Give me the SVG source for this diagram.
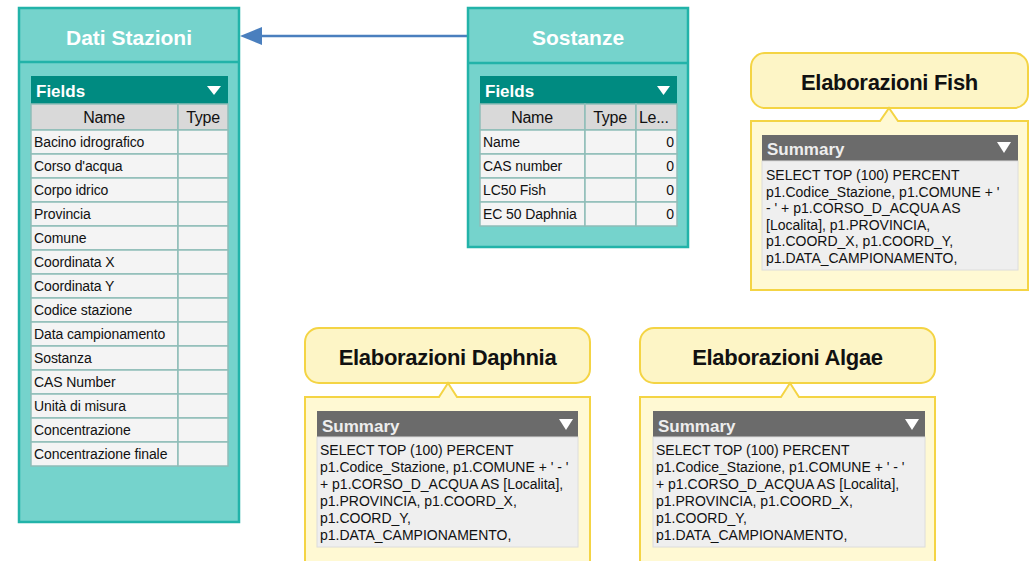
<svg xmlns="http://www.w3.org/2000/svg" width="1032" height="561" viewBox="0 0 1032 561">
<style>
.tbl{fill:#75d3cc;stroke:#22b3a9;stroke-width:2.5}
.ttl{font-family:"Liberation Sans",Arial,sans-serif;font-weight:bold;font-size:21px;fill:#ffffff;text-anchor:middle}
.fh{fill:#008b81}
.fht{font-family:"Liberation Sans",Arial,sans-serif;font-weight:bold;font-size:17px;fill:#ffffff}
.ch{fill:#d9d9d9;stroke:#8fbdb8;stroke-width:1.5}
.cht{font-family:"Liberation Sans",Arial,sans-serif;font-size:16px;fill:#111;text-anchor:middle;letter-spacing:-0.3px}
.cell{fill:#f4f4f4;stroke:#8fbdb8;stroke-width:1.5}
.ct{font-family:"Liberation Sans",Arial,sans-serif;font-size:14px;fill:#111;letter-spacing:-0.1px}
.num{text-anchor:end}
.wtri{fill:#ffffff}
.ctitle{fill:#fdf5c6;stroke:#f4d444;stroke-width:2}
.cbody{fill:#fff9d3;stroke:#f4d444;stroke-width:2}
.ctt{font-family:"Liberation Sans",Arial,sans-serif;font-weight:bold;font-size:22px;fill:#111;text-anchor:middle;letter-spacing:-0.3px}
.sh{fill:#6b6b6b}
.sht{font-family:"Liberation Sans",Arial,sans-serif;font-weight:bold;font-size:17px;fill:#eeeeee}
.sb{fill:#efefef;stroke:#dcdcdc;stroke-width:1}
.st{font-family:"Liberation Sans",Arial,sans-serif;font-size:14px;fill:#111}
.conn{stroke:#4a7fbe;stroke-width:2.5;fill:none}
.ah{fill:#4a7fbe}
</style>

<g id="connectors">
  <line class="conn" x1="468" y1="36" x2="258" y2="36"/>
  <polygon class="ah" points="240,36 262,27 262,45"/>
</g>

<g id="dati-stazioni">
  <rect class="tbl" x="19" y="8" width="220" height="514"/>
  <line x1="19" y1="62" x2="239" y2="62" stroke="#22b3a9" stroke-width="2.5"/>
  <text class="ttl" x="129" y="45">Dati Stazioni</text>
  <rect class="fh" x="31" y="76" width="197" height="28"/>
  <text class="fht" x="36" y="97">Fields</text>
  <polygon class="wtri" points="207,86 221,86 214,95"/>
  <rect class="ch" x="31" y="104" width="147" height="26"/>
  <rect class="ch" x="178" y="104" width="50" height="26"/>
  <text class="cht" x="104" y="123">Name</text>
  <text class="cht" x="203" y="123">Type</text>
  <g>
    <rect class="cell" x="31" y="130" width="147" height="24"/><rect class="cell" x="178" y="130" width="50" height="24"/>
    <rect class="cell" x="31" y="154" width="147" height="24"/><rect class="cell" x="178" y="154" width="50" height="24"/>
    <rect class="cell" x="31" y="178" width="147" height="24"/><rect class="cell" x="178" y="178" width="50" height="24"/>
    <rect class="cell" x="31" y="202" width="147" height="24"/><rect class="cell" x="178" y="202" width="50" height="24"/>
    <rect class="cell" x="31" y="226" width="147" height="24"/><rect class="cell" x="178" y="226" width="50" height="24"/>
    <rect class="cell" x="31" y="250" width="147" height="24"/><rect class="cell" x="178" y="250" width="50" height="24"/>
    <rect class="cell" x="31" y="274" width="147" height="24"/><rect class="cell" x="178" y="274" width="50" height="24"/>
    <rect class="cell" x="31" y="298" width="147" height="24"/><rect class="cell" x="178" y="298" width="50" height="24"/>
    <rect class="cell" x="31" y="322" width="147" height="24"/><rect class="cell" x="178" y="322" width="50" height="24"/>
    <rect class="cell" x="31" y="346" width="147" height="24"/><rect class="cell" x="178" y="346" width="50" height="24"/>
    <rect class="cell" x="31" y="370" width="147" height="24"/><rect class="cell" x="178" y="370" width="50" height="24"/>
    <rect class="cell" x="31" y="394" width="147" height="24"/><rect class="cell" x="178" y="394" width="50" height="24"/>
    <rect class="cell" x="31" y="418" width="147" height="24"/><rect class="cell" x="178" y="418" width="50" height="24"/>
    <rect class="cell" x="31" y="442" width="147" height="24"/><rect class="cell" x="178" y="442" width="50" height="24"/>
  </g>
  <text class="ct" x="34" y="147">Bacino idrografico</text>
  <text class="ct" x="34" y="171">Corso d'acqua</text>
  <text class="ct" x="34" y="195">Corpo idrico</text>
  <text class="ct" x="34" y="219">Provincia</text>
  <text class="ct" x="34" y="243">Comune</text>
  <text class="ct" x="34" y="267">Coordinata X</text>
  <text class="ct" x="34" y="291">Coordinata Y</text>
  <text class="ct" x="34" y="315">Codice stazione</text>
  <text class="ct" x="34" y="339">Data campionamento</text>
  <text class="ct" x="34" y="363">Sostanza</text>
  <text class="ct" x="34" y="387">CAS Number</text>
  <text class="ct" x="34" y="411">Unità di misura</text>
  <text class="ct" x="34" y="435">Concentrazione</text>
  <text class="ct" x="34" y="459">Concentrazione finale</text>
</g>

<g id="sostanze">
  <rect class="tbl" x="468" y="8" width="220" height="239"/>
  <line x1="468" y1="63" x2="688" y2="63" stroke="#22b3a9" stroke-width="2.5"/>
  <text class="ttl" x="578" y="45">Sostanze</text>
  <rect class="fh" x="480" y="76" width="197" height="28"/>
  <text class="fht" x="485" y="97">Fields</text>
  <polygon class="wtri" points="657,86 670,86 663.5,95"/>
  <rect class="ch" x="480" y="104" width="105" height="26"/>
  <rect class="ch" x="585" y="104" width="51" height="26"/>
  <rect class="ch" x="636" y="104" width="41" height="26"/>
  <text class="cht" x="532" y="123">Name</text>
  <text class="cht" x="610" y="123">Type</text>
  <text class="cht" x="639" y="123" style="text-anchor:start">Le...</text>
  <g>
    <rect class="cell" x="480" y="130" width="105" height="24"/><rect class="cell" x="585" y="130" width="51" height="24"/><rect class="cell" x="636" y="130" width="41" height="24"/>
    <rect class="cell" x="480" y="154" width="105" height="24"/><rect class="cell" x="585" y="154" width="51" height="24"/><rect class="cell" x="636" y="154" width="41" height="24"/>
    <rect class="cell" x="480" y="178" width="105" height="24"/><rect class="cell" x="585" y="178" width="51" height="24"/><rect class="cell" x="636" y="178" width="41" height="24"/>
    <rect class="cell" x="480" y="202" width="105" height="24"/><rect class="cell" x="585" y="202" width="51" height="24"/><rect class="cell" x="636" y="202" width="41" height="24"/>
  </g>
  <text class="ct" x="483" y="147">Name</text>
  <text class="ct" x="483" y="171">CAS number</text>
  <text class="ct" x="483" y="195">LC50 Fish</text>
  <text class="ct" x="483" y="219">EC 50 Daphnia</text>
  <text class="ct num" x="674" y="147">0</text>
  <text class="ct num" x="674" y="171">0</text>
  <text class="ct num" x="674" y="195">0</text>
  <text class="ct num" x="674" y="219">0</text>
</g>

<g id="elaborazioni-fish">
  <rect class="ctitle" x="751" y="53" width="277" height="55" rx="14"/>
  <path class="cbody" d="M751,121 L880,121 L889,108 L898,121 L1028,121 L1028,290 L751,290 Z"/>
  <text class="ctt" x="889.5" y="90">Elaborazioni Fish</text>
  <rect class="sh" x="762" y="135" width="256" height="26"/>
  <text class="sht" x="767" y="155">Summary</text>
  <polygon class="wtri" points="997,142 1011,142 1004,153"/>
  <rect class="sb" x="762" y="161" width="256" height="109"/>
  <text class="st" x="766" y="180">SELECT TOP (100) PERCENT</text>
  <text class="st" x="766" y="196.5">p1.Codice_Stazione, p1.COMUNE + '</text>
  <text class="st" x="766" y="213">- ' + p1.CORSO_D_ACQUA AS</text>
  <text class="st" x="766" y="229.5">[Localita], p1.PROVINCIA,</text>
  <text class="st" x="766" y="246">p1.COORD_X, p1.COORD_Y,</text>
  <text class="st" x="766" y="262.5">p1.DATA_CAMPIONAMENTO,</text>
</g>

<g id="elaborazioni-daphnia">
  <rect class="ctitle" x="305" y="328" width="285" height="55" rx="14"/>
  <path class="cbody" d="M305,397 L439,397 L448,383 L457,397 L590,397 L590,575 L305,575 Z"/>
  <text class="ctt" x="447.5" y="365">Elaborazioni Daphnia</text>
  <rect class="sh" x="317" y="411" width="261" height="26"/>
  <text class="sht" x="322" y="432">Summary</text>
  <polygon class="wtri" points="559,419 573,419 566,430"/>
  <rect class="sb" x="317" y="437" width="261" height="110"/>
  <text class="st" x="320" y="455">SELECT TOP (100) PERCENT</text>
  <text class="st" x="320" y="472">p1.Codice_Stazione, p1.COMUNE + ' - '</text>
  <text class="st" x="320" y="489">+ p1.CORSO_D_ACQUA AS [Localita],</text>
  <text class="st" x="320" y="506">p1.PROVINCIA, p1.COORD_X,</text>
  <text class="st" x="320" y="523">p1.COORD_Y,</text>
  <text class="st" x="320" y="540">p1.DATA_CAMPIONAMENTO,</text>
</g>

<g id="elaborazioni-algae">
  <rect class="ctitle" x="640" y="328" width="295" height="55" rx="14"/>
  <path class="cbody" d="M640,397 L781,397 L790,383 L799,397 L935,397 L935,575 L640,575 Z"/>
  <text class="ctt" x="787.5" y="365">Elaborazioni Algae</text>
  <rect class="sh" x="653" y="411" width="272" height="26"/>
  <text class="sht" x="658" y="432">Summary</text>
  <polygon class="wtri" points="905,419 919,419 912,430"/>
  <rect class="sb" x="653" y="437" width="272" height="110"/>
  <text class="st" x="656" y="455">SELECT TOP (100) PERCENT</text>
  <text class="st" x="656" y="472">p1.Codice_Stazione, p1.COMUNE + ' - '</text>
  <text class="st" x="656" y="489">+ p1.CORSO_D_ACQUA AS [Localita],</text>
  <text class="st" x="656" y="506">p1.PROVINCIA, p1.COORD_X,</text>
  <text class="st" x="656" y="523">p1.COORD_Y,</text>
  <text class="st" x="656" y="540">p1.DATA_CAMPIONAMENTO,</text>
</g>
</svg>
